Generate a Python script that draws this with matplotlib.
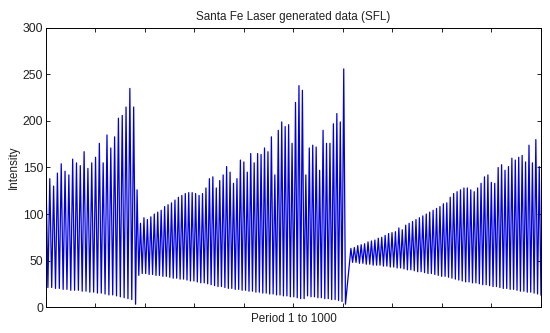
import numpy as np
import matplotlib
matplotlib.use("Agg")
import matplotlib.pyplot as plt

plt.rcParams['font.family'] = ['Liberation Sans', 'DejaVu Sans']

# extrema, one peak and one trough per laser pulse
# segment 1: samples 0 .. 181
seg1 = (0, 181)
peaks1 = [142, 138, 130, 144, 154, 146, 142, 159, 155, 152, 167, 149, 155,
          161, 176, 155, 185, 171, 183, 203, 206, 215, 235, 215]
troughs1 = [21, 21, 20, 20, 19, 19, 18, 18, 18, 17, 17, 16, 16,
            15, 15, 14, 13, 13, 12, 11, 10, 9, 8, 3]

# segment 2: samples 184 .. 605
seg2 = (184, 605)
peaks2 = [126, 90, 96, 94, 97, 100, 102, 104, 108, 110, 112, 115, 118,
          120, 122, 123, 123, 122, 120, 122, 128, 138, 140, 128, 136, 142,
          151, 145, 133, 138, 158, 156, 145, 165, 155, 165, 164, 171, 167,
          183, 142, 190, 199, 194, 196, 176, 220, 238, 233,
          142, 171, 174, 172, 147, 190, 176, 176, 197, 208, 199, 256]
troughs2 = [34, 36, 36, 35, 35, 34, 34, 33, 33, 32, 31, 31, 30,
            30, 29, 28, 28, 27, 26, 26, 25, 24, 23, 22, 22, 21,
            20, 20, 19, 19, 18, 18, 17, 17, 16, 16, 15, 15, 14,
            14, 13, 13, 12, 12, 11, 11, 10, 9, 9,
            12, 11, 11, 10, 10, 9, 9, 8, 8, 7, 6, 3]

# segment 3: samples 616 .. 1000
seg3 = (616, 1000)
peaks3 = [63, 64, 66, 67, 68, 70, 71, 72,
          74, 75, 77, 79, 80, 81, 85, 83, 88, 90, 92, 94, 96, 98, 100,
          102, 104, 106, 108, 111, 112, 118, 122, 124, 126, 128,
          128, 126, 124, 128, 133, 140, 142, 134, 133, 150, 153, 147,
          151, 160, 158, 161, 163, 156, 174, 155, 180, 151]
troughs3 = [48, 48, 47, 47, 46, 46, 45, 45,
            45, 44, 44, 43, 43, 42, 42, 41, 40, 40, 39, 38, 38, 37, 36,
            36, 35, 34, 33, 33, 32, 31, 30, 29, 28, 27,
            27, 26, 26, 25, 24, 24, 23, 22, 22, 21, 20, 20,
            19, 19, 18, 17, 17, 16, 16, 15, 14, 13]


def segment(bounds, peaks, troughs):
    vals = np.empty(2 * len(peaks))
    vals[0::2] = peaks
    vals[1::2] = troughs
    pos = np.linspace(bounds[0], bounds[1], len(vals))
    return pos, vals


xs, ys = [], []
for b, p, t in [(seg1, peaks1, troughs1), (seg2, peaks2, troughs2),
                (seg3, peaks3, troughs3)]:
    px, py = segment(b, p, t)
    xs.append(px)
    ys.append(py)
x = np.concatenate(xs)
y = np.concatenate(ys)

fig = plt.figure(figsize=(5.5, 3.33), dpi=100)
ax = fig.add_axes([0.0836, 0.078, 0.9, 0.838])
ax.plot(x, y, color='#0000dd', lw=0.9)

ax.set_xlim(0, 1000)
ax.set_ylim(0, 300)
ax.set_xticks(np.arange(0, 1001, 100))
ax.set_xticklabels([])
ax.set_yticks(np.arange(0, 301, 50))
ax.tick_params(direction='in', length=3, width=0.6, top=True, right=True,
               labelsize=8.8, pad=2, labelcolor='#222222')
for s in ax.spines.values():
    s.set_linewidth(0.7)

ax.set_title('Santa Fe Laser generated data (SFL)', fontsize=8.4, pad=6,
             color='#222222')
ax.set_xlabel('Period 1 to 1000', fontsize=8.4, labelpad=2, color='#222222')
ax.set_ylabel('Intensity', fontsize=8.4, labelpad=2, color='#222222')

fig.savefig('out.png', dpi=100)
